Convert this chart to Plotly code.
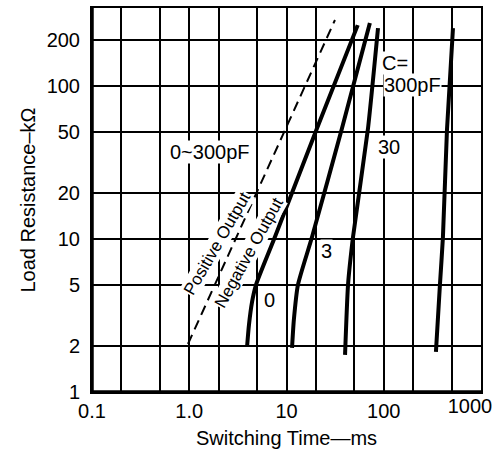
import math
import plotly.graph_objects as go

# Switching time (ms) vs load resistance (kOhm)
dash_x = [0.97, 31.5]
dash_y = [2.06, 270]

c0_x = [3.93, 4.11, 4.42, 4.85, 7.6, 20.6, 54]
c0_y = [1.97, 2.74, 3.87, 5.0, 10.3, 53, 250]

c3_x = [11.4, 11.9, 13.1, 18.3, 37.2, 72]
c3_y = [1.94, 2.96, 5.0, 10.3, 53, 258]

c30_x = [40, 42.9, 48.3, 68.9, 87.3]
c30_y = [1.75, 5.0, 10.3, 53, 239]

c300_x = [344, 378, 406, 447, 515]
c300_y = [1.83, 5.0, 10.3, 52, 239]

x_grid = [0.1, 0.2, 0.5, 1, 2, 5, 10, 20, 50, 100, 200, 500, 1000]
x_text = ["0.1", "", "", "1.0", "", "", "10", "", "", "100", "", "", ""]
x_last_val = [1000]
x_last_text = ["1000"]
y_grid = [1, 2, 5, 10, 20, 50, 100, 200]
y_text = ["1", "2", "5", "10", "20", "50", "100", "200"]

FONT = "Liberation Sans, Arial, sans-serif"

fig = go.Figure()
fig.add_trace(go.Scatter(x=dash_x, y=dash_y, mode="lines",
                         line=dict(color="black", width=2, dash="10px,6px")))
fig.add_trace(go.Scatter(x=c0_x, y=c0_y, mode="lines",
                         line=dict(color="black", width=4, shape="spline", smoothing=0.6)))
fig.add_trace(go.Scatter(x=c3_x, y=c3_y, mode="lines",
                         line=dict(color="black", width=4, shape="spline", smoothing=0.6)))
fig.add_trace(go.Scatter(x=c30_x, y=c30_y, mode="lines",
                         line=dict(color="black", width=4, shape="spline", smoothing=0.5)))
# drawn on an overlaid copy of the x axis (identical range) that carries the "1000" label
fig.add_trace(go.Scatter(x=c300_x, y=c300_y, mode="lines", xaxis="x2",
                         line=dict(color="black", width=4, shape="spline", smoothing=0.5)))

L = math.log10

def ann(x, y, text, angle=0, xanchor="center", size=20):
    fig.add_annotation(x=L(x), y=L(y), xref="x", yref="y", text=text, showarrow=False,
                       textangle=angle, xanchor=xanchor, yanchor="middle",
                       font=dict(size=size, color="black", family=FONT),
                       bgcolor="white", borderpad=0)

ann(94, 141, "C=", xanchor="left")
ann(98, 101.6, "300pF", xanchor="left")
ann(85, 40, "30", xanchor="left")
ann(25.5, 8.35, "3")
ann(6.76, 4.0, "0")
ann(1.63, 37, "0~300pF")
ann(1.93, 9.4, "Positive Output", angle=-60, size=17)
ann(4.11, 8.2, "Negative Output", angle=-61, size=17)

axis_common = dict(type="log", showgrid=True, gridcolor="black", gridwidth=1.5,
                   showline=True, linecolor="black", linewidth=2, mirror=True,
                   ticks="", zeroline=False, automargin=False,
                   tickfont=dict(size=20, color="black", family=FONT))

fig.update_layout(
    xaxis=dict(**axis_common, range=[-1, 3], tickmode="array",
               tickvals=x_grid, ticktext=x_text, ticklabelstandoff=0,
               title=dict(text="Switching Time—ms", standoff=10,
                          font=dict(size=20, color="black", family=FONT))),
    xaxis2=dict(type="log", overlaying="x", side="bottom", range=[-1, 3],
                showgrid=False, showline=False, zeroline=False, ticks="",
                automargin=False, tickmode="array", tickvals=x_last_val,
                ticktext=x_last_text, ticklabelstandoff=0, ticklabelshift=-11,
                ticklabeloverflow="allow",
                tickfont=dict(size=20, color="black", family=FONT)),
    yaxis=dict(**axis_common, range=[0, 2.51], tickmode="array",
               tickvals=y_grid, ticktext=y_text, ticklabelstandoff=6,
               title=dict(text="Load Resistance–kΩ", standoff=6,
                          font=dict(size=20, color="black", family=FONT))),
)

# thicker left and bottom frame edges, as in the original
fig.add_shape(type="line", xref="paper", yref="paper", x0=0, x1=0, y0=0, y1=1,
              line=dict(color="black", width=3.5))
fig.add_shape(type="line", xref="paper", yref="paper", x0=0, x1=1, y0=0, y1=0,
              line=dict(color="black", width=3.5))

fig.update_layout(width=498, height=459, showlegend=False,
                  margin=dict(l=92, r=17, t=8, b=67, autoexpand=False),
                  paper_bgcolor="white", plot_bgcolor="white")

fig.write_html("out.html")
